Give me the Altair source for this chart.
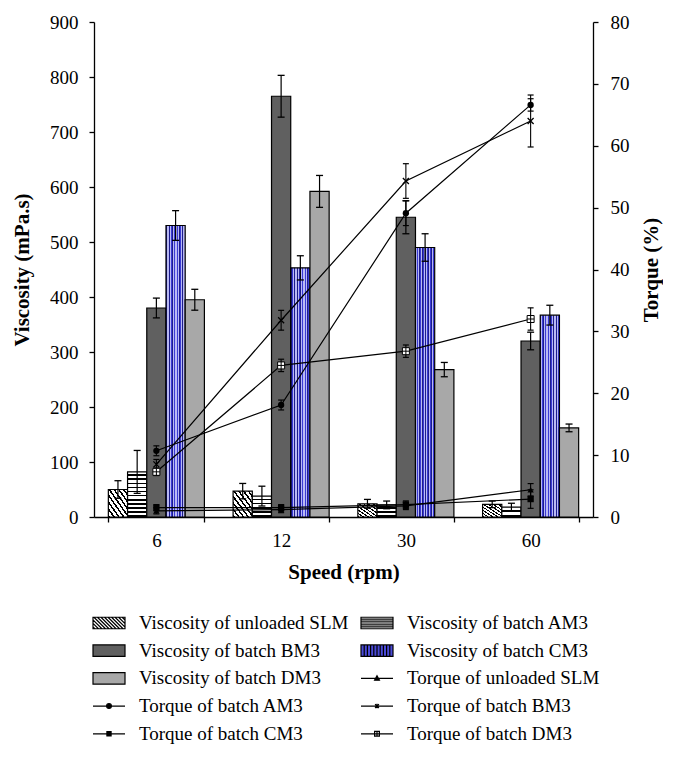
import altair as alt
import pandas as pd

# ---------------- data ----------------
speeds = ["6", "12", "30", "60"]

visc_labels = ["Viscosity of unloaded SLM", "Viscosity of batch AM3", "Viscosity of batch BM3",
               "Viscosity of batch CM3", "Viscosity of batch DM3"]
torque_labels = ["Torque of unloaded SLM", "Torque of batch AM3", "Torque of batch BM3",
                 "Torque of batch CM3", "Torque of batch DM3"]

visc_slm = [50, 47, 24, 23]
visc_slm_err = [16, 14, 8, 6]
visc_am3 = [82, 38, 22, 18]
visc_am3_err = [39, 18, 7, 7]
visc_bm3 = [380, 765, 545, 320]
visc_bm3_err = [18, 38, 30, 16]
visc_cm3 = [530, 453, 490, 367]
visc_cm3_err = [27, 22, 25, 18]
visc_dm3 = [395, 592, 268, 162]
visc_dm3_err = [19, 29, 13, 7]

torque_slm = [1.0, 1.2, 1.8, 4.4]
torque_slm_err = [0.5, 0.5, 0.6, 1.0]
torque_am3 = [10.7, 18.1, 49.1, 66.6]
torque_am3_err = [0.8, 0.8, 2.0, 1.0]
torque_bm3 = [8.5, 31.8, 54.3, 64.0]
torque_bm3_err = [0.8, 1.6, 2.8, 4.2]
torque_cm3 = [1.5, 1.5, 2.0, 2.9]
torque_cm3_err = [0.5, 0.5, 0.6, 1.5]
torque_dm3 = [7.3, 24.5, 26.8, 32.0]
torque_dm3_err = [0.6, 1.0, 1.0, 1.8]

# ---------------- tables ----------------
def build(labels, vals, errs):
    rows = []
    for lab, v, e in zip(labels, vals, errs):
        for i, s in enumerate(speeds):
            rows.append({"label": lab, "speed": s, "idx": i, "value": v[i],
                         "lo": v[i] - e[i], "hi": v[i] + e[i]})
    return pd.DataFrame(rows)

df_v = build(visc_labels,
             [visc_slm, visc_am3, visc_bm3, visc_cm3, visc_dm3],
             [visc_slm_err, visc_am3_err, visc_bm3_err, visc_cm3_err, visc_dm3_err])
df_t = build(torque_labels,
             [torque_slm, torque_am3, torque_bm3, torque_cm3, torque_dm3],
             [torque_slm_err, torque_am3_err, torque_bm3_err, torque_cm3_err, torque_dm3_err])

all_labels = visc_labels + torque_labels

# ---------------- styles ----------------
W, H = 499, 495
FONT = "Liberation Serif"
BM3_FILL = "#606060"
DM3_FILL = "#a8a8a8"


def stripes(n, pattern, x1, y1, x2, y2):
    stops = []
    for i in range(n):
        start = i / n
        for col, frac in pattern:
            end = start + frac / n
            stops.append({"offset": round(start, 5), "color": col})
            stops.append({"offset": round(min(end, 1.0), 5), "color": col})
            start = end
    return {"gradient": "linear", "x1": x1, "y1": y1, "x2": x2, "y2": y2, "stops": stops}


grad_cm3 = stripes(6, [("#1c1c8c", 0.26), ("#b8b8f4", 0.24), ("#3a3ad4", 0.26), ("#b8b8f4", 0.24)], 0, 0, 1, 0)
grad_slm = stripes(8, [("#000000", 0.38), ("#ffffff", 0.62)], 0, 1, 1, 0)

conds = [
    {"test": f"datum.label == '{visc_labels[0]}'", "value": grad_slm},
    {"test": f"datum.label == '{visc_labels[2]}'", "value": BM3_FILL},
    {"test": f"datum.label == '{visc_labels[3]}'", "value": grad_cm3},
]
for s, v in zip(speeds, visc_am3):
    n = max(2, round(v * H / 900 / 4.2))
    conds.append({"test": f"datum.label == '{visc_labels[1]}' && datum.speed == '{s}'",
                  "value": stripes(n, [("#ffffff", 0.6), ("#000000", 0.4)], 0, 0, 0, 1)})

# legend symbol paths (drawn in [-1,1] box)
A = 0.36
RECT = f"M-1,{-A}H1V{A}H-1Z"


def diag_lines():
    p = ""
    c = -1 - A + 0.12
    while c < 1 + A:
        x0, x1 = max(-1, c - A), min(1, c + A)
        if x1 - x0 > 0.02:
            p += f"M{x0:.3f},{x0 - c:.3f}L{x1:.3f},{x1 - c:.3f}"
        c += 0.22
    return p


hlines = "".join(f"M-1,{y:.3f}H1" for y in [-0.24, -0.12, 0, 0.12, 0.24])
vlines = "".join(f"M{x:.3f},{-A}V{A}" for x in [-0.8, -0.6, -0.4, -0.2, 0, 0.2, 0.4, 0.6, 0.8])
LINE = "M-1,0H1"
sym_path = dict(zip(all_labels, [
    RECT + diag_lines(),
    RECT + hlines,
    RECT,
    RECT + vlines,
    RECT,
    LINE + "M0,-0.16L0.15,0.11L-0.15,0.11Z",
    LINE + "M-0.15,0A0.15,0.15 0 1,0 0.15,0A0.15,0.15 0 1,0 -0.15,0Z",
    LINE + "M-0.12,-0.12L0.12,0.12M-0.12,0.12L0.12,-0.12M0,-0.14V0.14",
    LINE + "M-0.13,-0.13H0.13V0.13H-0.13Z",
    LINE + "M-0.15,-0.15H0.15V0.15H-0.15ZM-0.15,0H0.15M0,-0.15V0.15",
]))
sym_fill = dict(zip(all_labels, ["#ffffff", "#ffffff", BM3_FILL, "#4a4ad8", DM3_FILL,
                                 "#000000", "#000000", "#000000", "#000000", "#ffffff"]))
# the legend grid is filled column by column: reorder so it reads row by row
NROW = 5
leg_order = [all_labels[r * 2 + c] for c in range(2) for r in range(NROW)]

x_enc = alt.X("speed:N", sort=speeds,
              scale=alt.Scale(paddingInner=0.23, paddingOuter=0.115),
              axis=alt.Axis(title="Speed (rpm)", labelAngle=0, tickBand="extent",
                            tickSize=5, labelPadding=9, titlePadding=11))

axis_v = alt.Axis(orient="left", title="Viscosity (mPa.s)", values=list(range(0, 901, 100)),
                  grid=False, tickSize=5, labelPadding=11, titlePadding=17)
axis_t = alt.Axis(orient="right", title="Torque (%)", values=list(range(0, 81, 10)),
                  grid=False, tickSize=5, labelPadding=12, titlePadding=11,
                  titleAngle=270, titleBaseline="top")
y_v = dict(scale=alt.Scale(domain=[0, 900], nice=False), axis=axis_v)
y_t = dict(scale=alt.Scale(domain=[0, 80], nice=False), axis=axis_t)
xoff = alt.XOffset("label:N", sort=visc_labels, scale=alt.Scale(paddingInner=0, paddingOuter=0))

# ---------------- viscosity bars ----------------
base_v = alt.Chart(df_v)
bars = base_v.mark_bar(stroke="black", strokeWidth=1.2).encode(
    x=x_enc, xOffset=xoff,
    y=alt.Y("value:Q", **y_v),
    fill={"condition": conds, "value": DM3_FILL},
)
v_rule = base_v.mark_rule(color="black", strokeWidth=1.2).encode(
    x=x_enc, xOffset=xoff, y=alt.Y("lo:Q", **y_v), y2="hi:Q")
v_top = base_v.mark_tick(color="black", size=7, thickness=1.3, opacity=1).encode(
    x=x_enc, xOffset=xoff, y=alt.Y("hi:Q", **y_v))
v_bot = base_v.mark_tick(color="black", size=7, thickness=1.3, opacity=1).encode(
    x=x_enc, xOffset=xoff, y=alt.Y("lo:Q", **y_v))
visc_group = alt.layer(bars, v_rule, v_top, v_bot)

# ---------------- torque lines ----------------
base_t = alt.Chart(df_t)
lines = base_t.mark_line(color="black", strokeWidth=1.2).encode(
    x=x_enc, y=alt.Y("value:Q", **y_t), detail="label:N", order="idx:Q")
t_rule = base_t.mark_rule(color="black", strokeWidth=1.1).encode(
    x=x_enc, y=alt.Y("lo:Q", **y_t), y2="hi:Q")
t_top = base_t.mark_tick(color="black", size=6, thickness=1.2, opacity=1).encode(
    x=x_enc, y=alt.Y("hi:Q", **y_t))
t_bot = base_t.mark_tick(color="black", size=6, thickness=1.2, opacity=1).encode(
    x=x_enc, y=alt.Y("lo:Q", **y_t))

point_styles = [
    dict(shape="triangle-up", filled=True, fill="black", size=40),
    dict(shape="circle", filled=True, fill="black", size=40),
    dict(shape="M-1,-1L1,1M-1,1L1,-1", filled=False, stroke="black", strokeWidth=1.3, size=36),
    dict(shape="square", filled=True, fill="black", size=40),
    dict(shape="M-1,-1H1V1H-1ZM-1,0H1M0,-1V1", filled=True, fill="white", stroke="black",
         strokeWidth=1, size=49),
]
pts = []
for lab, st in zip(torque_labels, point_styles):
    pts.append(base_t.transform_filter(alt.datum.label == lab)
               .mark_point(opacity=1, **st)
               .encode(x=x_enc, y=alt.Y("value:Q", **y_t)))
torque_group = alt.layer(lines, t_rule, t_top, t_bot, *pts)

# ---------------- legend ----------------
leg = dict(orient="none", legendX=-2, legendY=584, columns=2, title=None,
           symbolSize=1024, symbolStrokeWidth=1.2, symbolStrokeColor="black",
           symbolOpacity=1, labelFont=FONT, labelFontSize=19, labelColor="black",
           labelLimit=400, labelOffset=13, columnPadding=9, rowPadding=0.7, padding=0)
legend_layer = alt.Chart(pd.DataFrame({"label": all_labels})).mark_point(
    opacity=0, filled=True, strokeWidth=1.2).encode(
    x=alt.value(0), y=alt.value(0),
    fill=alt.Fill("label:N", legend=alt.Legend(**leg),
                  scale=alt.Scale(domain=leg_order, range=[sym_fill[l] for l in leg_order])),
    shape=alt.Shape("label:N", legend=alt.Legend(**leg),
                    scale=alt.Scale(domain=leg_order, range=[sym_path[l] for l in leg_order])),
    stroke=alt.Stroke("label:N", legend=alt.Legend(**leg),
                      scale=alt.Scale(domain=leg_order, range=["#000000"] * len(leg_order))),
)

chart = alt.layer(visc_group, torque_group, legend_layer).resolve_scale(
    y="independent"
).properties(
    width=W, height=H,
    autosize=alt.AutoSizeParams(type="none"),
    padding={"left": 86, "top": 14, "right": 70, "bottom": 228},
).configure_view(stroke=None).configure_axis(
    labelFont=FONT, labelFontSize=19, labelColor="black",
    titleFont=FONT, titleFontSize=21, titleFontWeight="bold", titleColor="black",
    domainColor="black", domainWidth=1.3, tickColor="black", tickWidth=1.3,
)

chart.save("out.html", embed_options={"renderer": "svg", "actions": False})
